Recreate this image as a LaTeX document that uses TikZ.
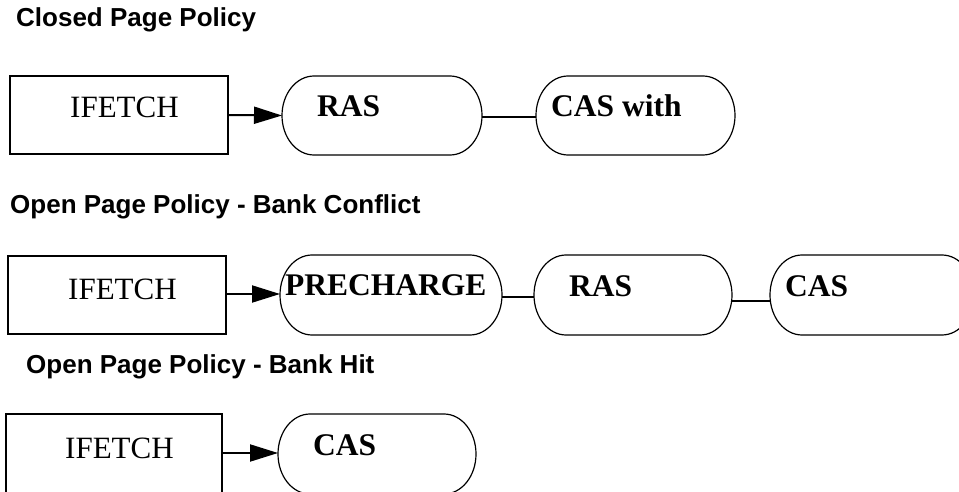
\documentclass[tikz,border=0pt]{standalone}
\usepackage{fontspec}
\setmainfont{Liberation Serif}
\newfontfamily\headfont{Liberation Sans}
\usetikzlibrary{arrows.meta}

\tikzset{
  heading/.style={anchor=base west, inner sep=0pt, font=\headfont\bfseries\fontsize{26}{30}\selectfont},
  plainlabel/.style={anchor=base west, inner sep=0pt, font=\fontsize{31}{36}\selectfont},
  boldlabel/.style={anchor=base west, inner sep=0pt, font=\bfseries\fontsize{31.5}{36}\selectfont},
  fetchbox/.style={draw, line width=2pt, rectangle, inner sep=0pt, outer sep=0pt},
  phase/.style={rectangle, inner sep=0pt, outer sep=0pt},
  flow/.style={line width=2pt, -{Triangle[length=28pt,width=17pt]}},
  link/.style={line width=2pt}
}

% Outline of a phase node: straight top and bottom, half-elliptic ends.
% #1 = node name, #2 = half of the node height
\newcommand\phaseoutline[2]{%
  \draw[line width=1.2pt] ([xshift=32pt]#1.north west) -- ([xshift=-32pt]#1.north east)
    arc[start angle=-90, end angle=90, x radius=32, y radius=#2]
    -- ([xshift=32pt]#1.south west)
    arc[start angle=90, end angle=270, x radius=32, y radius=#2] -- cycle;}

\begin{document}
\begin{tikzpicture}[x=1pt,y=-1pt]
\useasboundingbox (0,0) rectangle (959,492);

% Closed page policy
\node[heading] (t1) at (16,27) {Closed Page Policy};
\node[fetchbox, minimum width=218pt, minimum height=78pt] (if1) at (119,115) {};
\node[phase, minimum width=200pt, minimum height=79pt] (ras1) at (382,115.5) {};
\node[phase, minimum width=199pt, minimum height=79pt] (cas1) at (635.5,115.5) {};
\phaseoutline{ras1}{39.5}
\phaseoutline{cas1}{39.5}
\node[plainlabel] (if1t) at (70,118) {IFETCH};
\node[boldlabel] (ras1t) at (317,117) {RAS};
\node[boldlabel] (cas1t) at (551,117) {CAS with};
\draw[flow] (if1.east) -- (ras1.west);
\draw[link] ([yshift=-2pt]ras1.east) -- ([yshift=-2pt]cas1.west);

% Open page policy, bank conflict
\node[heading] (t2) at (10,213) {Open Page Policy - Bank Conflict};
\node[fetchbox, minimum width=218pt, minimum height=78pt] (if2) at (117,295) {};
\node[phase, minimum width=222pt, minimum height=80pt] (pre2) at (391,295) {};
\node[phase, minimum width=198pt, minimum height=80pt] (ras2) at (633,295) {};
\node[phase, minimum width=204pt, minimum height=80pt] (cas2) at (872,295) {};
\phaseoutline{pre2}{40}
\phaseoutline{ras2}{40}
\phaseoutline{cas2}{40}
\node[plainlabel] (if2t) at (68,299) {IFETCH};
\node[boldlabel] (pre2t) at (285,295) {PRECHARGE};
\node[boldlabel] (ras2t) at (569,296) {RAS};
\node[boldlabel] (cas2t) at (785,296) {CAS};
\draw[flow] ([yshift=1pt]if2.east) -- ([yshift=1pt]pre2.west);
\draw[link] ([yshift=-2pt]pre2.east) -- ([yshift=-2pt]ras2.west);
\draw[link] ([yshift=-6pt]ras2.east) -- ([yshift=-6pt]cas2.west);

% Open page policy, bank hit
\node[heading] (t3) at (26,373) {Open Page Policy - Bank Hit};
\node[fetchbox, minimum width=216pt, minimum height=80pt] (if3) at (114,454) {};
\node[phase, minimum width=198pt, minimum height=80pt] (cas3) at (377,454) {};
\phaseoutline{cas3}{40}
\node[plainlabel] (if3t) at (65,458) {IFETCH};
\node[boldlabel] (cas3t) at (313,455) {CAS};
\draw[flow] ([yshift=1pt]if3.east) -- ([yshift=1pt]cas3.west);
\end{tikzpicture}
\end{document}
